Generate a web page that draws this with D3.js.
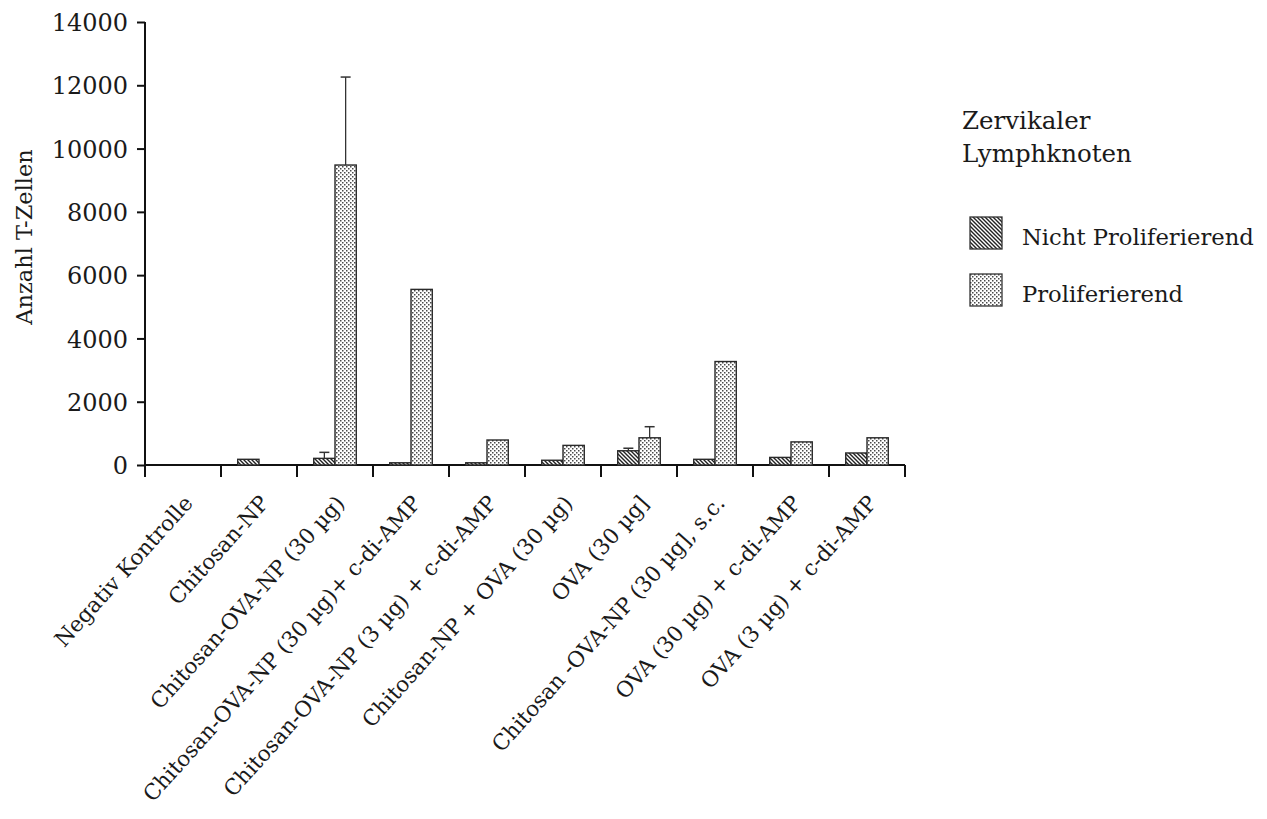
<!DOCTYPE html>
<html><head><meta charset="utf-8">
<script src="https://cdn.jsdelivr.net/npm/d3@7"></script>
<style>body{margin:0;background:#fff}svg{display:block}text{font-family:"DejaVu Serif",serif;fill:#1a1a1a}</style>
</head><body><svg id="c" width="1267" height="819"></svg>
<script>
const categories = ["Negativ Kontrolle","Chitosan-NP","Chitosan-OVA-NP (30 µg)","Chitosan-OVA-NP (30 µg)+ c-di-AMP","Chitosan-OVA-NP (3 µg) + c-di-AMP","Chitosan-NP + OVA (30 µg)","OVA (30 µg]","Chitosan -OVA-NP (30 µg], s.c.","OVA (30 µg) + c-di-AMP","OVA (3 µg) + c-di-AMP"];
const nonProlif    = [0,180,210,70,70,150,450,180,240,380];
const nonProlifErr = [0,0,190,0,0,0,80,0,0,0];
const prolif       = [0,0,9480,5550,790,620,860,3270,730,860];
const prolifErr    = [0,0,2780,0,0,0,350,0,0,0];
const yTicks = [0,2000,4000,6000,8000,10000,12000,14000];
const seriesNames = ["Nicht Proliferierend","Proliferierend"];
const legendTitle = ["Zervikaler","Lymphknoten"];
const yLabel = "Anzahl T-Zellen";

const svg = d3.select("#c");
const defs = svg.append("defs");
const ph = defs.append("pattern").attr("id","hatch").attr("patternUnits","userSpaceOnUse").attr("width",4).attr("height",4);
ph.append("rect").attr("width",4).attr("height",4).attr("fill","#fff");
ph.append("path").attr("d","M-1,-1L5,5M3,-1L5,1M-1,3L1,5").attr("stroke","#222").attr("stroke-width",1.4);
const pd = defs.append("pattern").attr("id","dots").attr("patternUnits","userSpaceOnUse").attr("width",4).attr("height",4);
pd.append("rect").attr("width",4).attr("height",4).attr("fill","#fff");
pd.append("rect").attr("x",0).attr("y",0).attr("width",1.5).attr("height",1.5).attr("fill","#4a4a4a");
pd.append("rect").attr("x",2).attr("y",2).attr("width",1.5).attr("height",1.5).attr("fill","#4a4a4a");

const x = d3.scaleBand().domain(categories).range([145,905]).padding(0);
const y = d3.scaleLinear().domain([0,14000]).range([465,22]);
const bw = x.bandwidth()*0.28;

// y axis
const ya = svg.append("g").attr("transform","translate(145,0)")
  .call(d3.axisLeft(y).tickValues(yTicks).tickSize(8).tickPadding(9).tickFormat(d3.format("d")));
ya.select(".domain").attr("d","M0,22V477").attr("stroke","#111").attr("stroke-width",2);
ya.selectAll(".tick line").attr("stroke","#111").attr("stroke-width",2);
ya.selectAll(".tick text").style("font-family","DejaVu Serif").style("font-size","24px").attr("fill","#1a1a1a").attr("dy","0.36em");

// x axis
const xa = svg.append("g").attr("transform","translate(0,465)");
xa.append("line").attr("x1",145).attr("x2",905).attr("y1",0).attr("y2",0).attr("stroke","#111").attr("stroke-width",2);
const bounds = categories.map(c=>x(c)+x.bandwidth());
xa.selectAll(".xt").data(bounds).join("line").attr("x1",d=>d).attr("x2",d=>d).attr("y1",0).attr("y2",12).attr("stroke","#111").attr("stroke-width",2);

// bars
const g = svg.append("g");
categories.forEach((c,i)=>{
  const cx = x(c)+x.bandwidth()/2;
  if (nonProlif[i]>0) g.append("rect").attr("x",cx-bw).attr("y",y(nonProlif[i])).attr("width",bw).attr("height",y(0)-y(nonProlif[i]))
    .attr("fill","url(#hatch)").attr("stroke","#2a2a2a").attr("stroke-width",1.4);
  if (prolif[i]>0) g.append("rect").attr("x",cx).attr("y",y(prolif[i])).attr("width",bw).attr("height",y(0)-y(prolif[i]))
    .attr("fill","url(#dots)").attr("stroke","#2a2a2a").attr("stroke-width",1.4);
  [[nonProlif[i],nonProlifErr[i],cx-bw/2],[prolif[i],prolifErr[i],cx+bw/2]].forEach(([v,e,ex])=>{
    if (e>0){
      g.append("line").attr("x1",ex).attr("x2",ex).attr("y1",y(v)).attr("y2",y(v+e)).attr("stroke","#333").attr("stroke-width",1.3);
      g.append("line").attr("x1",ex-5).attr("x2",ex+5).attr("y1",y(v+e)).attr("y2",y(v+e)).attr("stroke","#333").attr("stroke-width",1.5);
    }
  });
});

// x labels
categories.forEach((c,i)=>{
  const cx = x(c)+x.bandwidth()/2;
  svg.append("text").attr("transform",`translate(${cx+11},504) rotate(-48)`).attr("text-anchor","end")
    .style("font-size","21.6px").text(c);
});

// y label
svg.append("text").attr("transform","translate(32,237) rotate(-90)").attr("text-anchor","middle").style("font-size","22.5px").text(yLabel);

// legend
svg.append("text").attr("x",962).attr("y",129).style("font-size","24.5px").text(legendTitle[0]);
svg.append("text").attr("x",962).attr("y",162).style("font-size","24.5px").text(legendTitle[1]);
const fills=["url(#hatch)","url(#dots)"];
seriesNames.forEach((s,i)=>{
  const yy = [217,274][i];
  svg.append("rect").attr("x",970).attr("y",yy).attr("width",32).attr("height",32).attr("fill",fills[i]).attr("stroke","#333").attr("stroke-width",1.3);
  svg.append("text").attr("x",1022).attr("y",yy+28).style("font-size","22.7px").text(s);
});
</script></body></html>
